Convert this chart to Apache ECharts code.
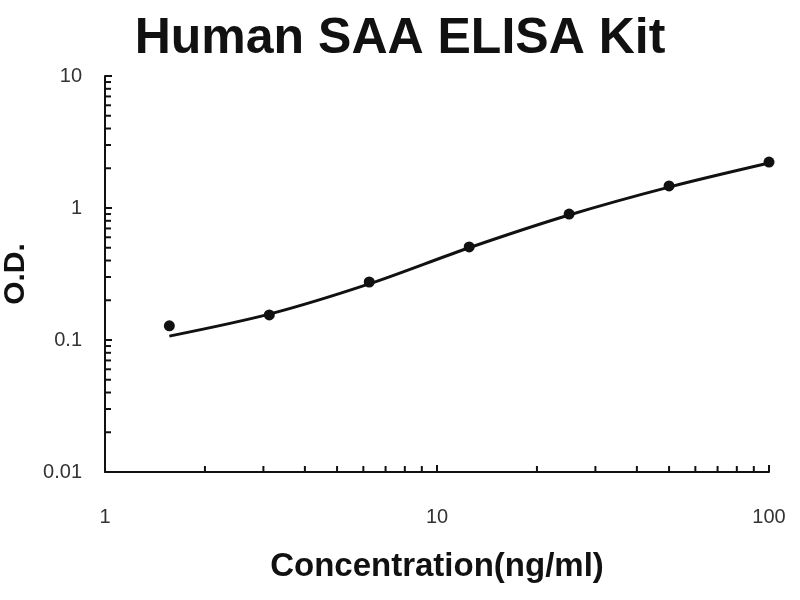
<!DOCTYPE html>
<html>
<head>
<meta charset="utf-8">
<script src="https://cdn.jsdelivr.net/npm/echarts@6/dist/echarts.min.js"></script>
<style>
  html, body { margin: 0; padding: 0; background: #fff; }
  #chart { width: 800px; height: 600px; }
</style>
</head>
<body>
<div id="chart"></div>
<script>
// standards: concentration (ng/ml) and measured O.D.
const conc = [1.5625, 3.125, 6.25, 12.5, 25, 50, 100];
const od = [0.128, 0.155, 0.275, 0.507, 0.90, 1.47, 2.23];
// fitted curve at the same concentrations
const fitOd = [0.107, 0.157, 0.266, 0.50, 0.885, 1.44, 2.19];

// minor tick positions of the log axes
const xMinor = [2, 3, 4, 5, 6, 7, 8, 9, 20, 30, 40, 50, 60, 70, 80, 90];
const yMinor = [0.02, 0.03, 0.04, 0.05, 0.06, 0.07, 0.08, 0.09,
                0.2, 0.3, 0.4, 0.5, 0.6, 0.7, 0.8, 0.9,
                2, 3, 4, 5, 6, 7, 8, 9];

const xMin = 1, xMax = 100;
const yMin = 0.01, yMax = 10;

const chart = echarts.init(document.getElementById('chart'));

const fmt = function (v) { return String(+v.toPrecision(3)); };

const option = {
  backgroundColor: '#fff',
  animation: false,
  title: {
    text: 'Human SAA ELISA Kit',
    left: 'center',
    top: 9,
    textStyle: {
      fontFamily: 'Liberation Sans',
      fontWeight: 'bold',
      fontSize: 50,
      color: '#111'
    }
  },
  grid: { left: 105, right: 31, top: 76, bottom: 128, outerBoundsMode: 'none', containLabel: false },
  xAxis: {
    type: 'log',
    logBase: 10,
    min: xMin,
    max: xMax,
    name: 'Concentration(ng/ml)',
    nameLocation: 'middle',
    nameGap: 78,
    nameTextStyle: {
      fontFamily: 'Liberation Sans', fontWeight: 'bold', fontSize: 33, color: '#111'
    },
    axisLine: { lineStyle: { color: '#111', width: 2 } },
    axisTick: { inside: true, length: 7, lineStyle: { color: '#111', width: 2 } },
    axisLabel: {
      margin: 35, fontFamily: 'Liberation Sans', fontSize: 20, color: '#333',
      formatter: fmt
    },
    splitLine: { show: false }
  },
  yAxis: {
    type: 'log',
    logBase: 10,
    min: yMin,
    max: yMax,
    name: 'O.D.',
    nameLocation: 'middle',
    nameGap: 74,
    nameTextStyle: {
      fontFamily: 'Liberation Sans', fontWeight: 'bold', fontSize: 30, color: '#111'
    },
    axisLine: { lineStyle: { color: '#111', width: 2 } },
    axisTick: { inside: true, length: 7, lineStyle: { color: '#111', width: 2 } },
    axisLabel: {
      margin: 23, fontFamily: 'Liberation Sans', fontSize: 20, color: '#333',
      formatter: fmt
    },
    splitLine: { show: false }
  },
  series: [
    {
      name: 'fit',
      type: 'line',
      data: conc.map((c, i) => [c, fitOd[i]]),
      smooth: 0.3,
      showSymbol: false,
      lineStyle: { color: '#111', width: 3 },
      z: 2
    },
    {
      name: 'standards',
      type: 'scatter',
      data: conc.map((c, i) => [c, od[i]]),
      symbol: 'circle',
      symbolSize: 11,
      itemStyle: { color: '#111', opacity: 1 },
      z: 3
    },
    {
      name: 'xMinorTicks',
      type: 'scatter',
      data: xMinor.map(v => [v, yMin]),
      symbol: 'rect',
      symbolSize: [2, 6],
      symbolOffset: [0, -3],
      itemStyle: { color: '#111', opacity: 1 },
      clip: false,
      silent: true
    },
    {
      name: 'yMinorTicks',
      type: 'scatter',
      data: yMinor.map(v => [xMin, v]),
      symbol: 'rect',
      symbolSize: [6, 2],
      symbolOffset: [3, 0],
      itemStyle: { color: '#111', opacity: 1 },
      clip: false,
      silent: true
    }
  ]
};

chart.setOption(option);
</script>
</body>
</html>
